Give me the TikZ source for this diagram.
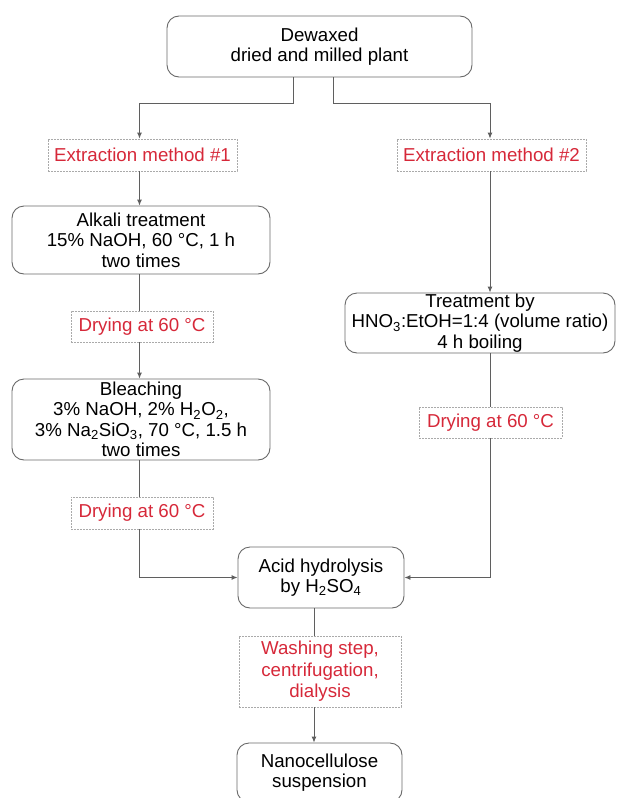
\documentclass[tikz,border=0pt]{standalone}
\usepackage{fontspec}
\setmainfont{Liberation Sans}
\usepackage{tikz}
\usetikzlibrary{arrows.meta, positioning}
\definecolor{stepred}{RGB}{214,40,57}
\definecolor{boxgray}{RGB}{105,105,105}
\definecolor{dashgray}{RGB}{170,170,170}
\definecolor{linegray}{RGB}{95,95,95}

\begin{document}
\begin{tikzpicture}[x=1pt, y=-1pt, >={Latex[length=6pt,width=5pt]},
    proc/.style={draw=boxgray, line width=0.9pt, rounded corners=12pt, align=center, inner sep=0pt,
        font=\fontsize{18.7}{20.5}\selectfont},
    cond/.style={draw=dashgray, dash pattern=on 2pt off 1pt, line width=0.8pt, align=center, inner sep=0pt,
        text=stepred, font=\fontsize{18.7}{21.5}\selectfont},
    link/.style={draw=linegray, line width=0.9pt},
    flow/.style={link, ->}]
        \useasboundingbox (0,0) rectangle (616,798);
        \coordinate (colL) at (139.5,0);
        \coordinate (colM) at (314,0);
        \coordinate (colR) at (490,0);
        \coordinate (splitL) at (293,103);
        \coordinate (splitR) at (333,103);

        \node[proc, minimum width=305pt, minimum height=61pt] (plant) at (319.5,46.5) {Dewaxed\\dried and milled plant};
        \node[cond, minimum width=189pt, minimum height=32pt] (meth1) at (142.5,155) {Extraction method \#1};
        \node[cond, minimum width=189pt, minimum height=32pt] (meth2) at (491.5,155) {Extraction method \#2};
        \node[proc, minimum width=258pt, minimum height=68pt] (alkali) at (141,240) {Alkali treatment\\15\% NaOH, 60 °C, 1 h\\two times};
        \node[cond, minimum width=142pt, minimum height=31pt] (dry1) at (142,326.5) {Drying at 60 °C};
        \node[proc, minimum width=258pt, minimum height=81pt] (bleach) at (141,419.5) {Bleaching\\3\% NaOH, 2\% H\textsubscript{2}O\textsubscript{2},\\3\% Na\textsubscript{2}SiO\textsubscript{3}, 70 °C, 1.5 h\\two times};
        \node[cond, minimum width=142pt, minimum height=32pt] (dry2) at (142,513) {Drying at 60 °C};
        \node[proc, minimum width=270pt, minimum height=60pt] (treat) at (480,323) {Treatment by\\HNO\textsubscript{3}:EtOH=1:4 (volume ratio)\\4 h boiling};
        \node[cond, minimum width=143pt, minimum height=31pt] (dry3) at (490.5,422.5) {Drying at 60 °C};
        \node[proc, minimum width=166pt, minimum height=61pt] (acid) at (321,577.5) {Acid hydrolysis\\by H\textsubscript{2}SO\textsubscript{4}};
        \node[cond, minimum width=162pt, minimum height=71pt] (wash) at (320,671.5) {Washing step,\\centrifugation,\\dialysis};
        \node[proc, minimum width=165pt, minimum height=59pt] (nano) at (319.5,772.5) {Nanocellulose\\suspension};

        \draw[flow] (plant.south -| splitL) -- (splitL) -| (meth1.north -| colL);
        \draw[flow] (plant.south -| splitR) -- (splitR) -| (meth2.north -| colR);
        \draw[flow] (meth1.south -| colL) -- (alkali.north -| colL);
        \draw[link] (alkali.south -| colL) -- (dry1.north -| colL);
        \draw[flow] (dry1.south -| colL) -- (bleach.north -| colL);
        \draw[link] (bleach.south -| colL) -- (dry2.north -| colL);
        \draw[flow] (dry2.south -| colL) |- (acid.west);
        \draw[flow] (meth2.south -| colR) -- (treat.north -| colR);
        \draw[link] (treat.south -| colR) -- (dry3.north -| colR);
        \draw[flow] (dry3.south -| colR) |- (acid.east);
        \draw[link] (acid.south -| colM) -- (wash.north -| colM);
        \draw[flow] (wash.south -| colM) -- (nano.north -| colM);
    \end{tikzpicture}
\end{document}
